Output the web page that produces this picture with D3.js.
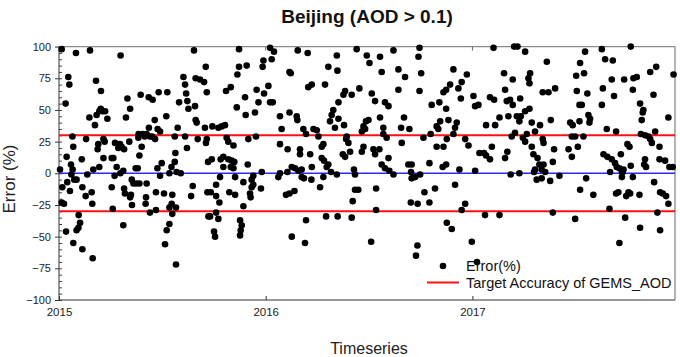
<!DOCTYPE html>
<html><head><meta charset="utf-8">
<script src="https://cdn.jsdelivr.net/npm/d3@7/dist/d3.min.js"></script>
<style>
html,body{margin:0;padding:0;background:#fff;}
svg{display:block;font-family:"Liberation Sans",Arial,sans-serif;}
</style></head>
<body>
<svg id="chart" width="680" height="357"></svg>
<script>
// ---- data ----
const titleText = "Beijing (AOD > 0.1)";
const xLabel = "Timeseries";
const yLabel = "Error (%)";
const startYear = 2015;
const xTickYears = [2015, 2016, 2017];
const yTicks = [-100, -75, -50, -25, 0, 25, 50, 75, 100];
const targetAccuracy = [30, -30];
const zeroLine = 0;
const legendLabels = ["Error(%)", "Target Accuracy of GEMS_AOD"];
// each observation: [years elapsed since startYear, error (%)]
const observations = [
[0.013,98],[0.082,95],[0.150,97],[0.298,93],[0.653,97],[0.710,84],[0.045,76],[0.050,70],[0.179,73],[0.203,65],[0.032,55],[0.602,76],[0.610,70],[0.661,75],[0.682,74],[0.702,72],[0.715,64],[0.395,62],[0.434,60],[0.453,58],[0.482,64],[0.524,64],[0.331,59],[0.344,51],[0.581,56],[0.615,63],[0.621,57],[0.626,51],[0.658,53],[0.202,51],[0.195,49],[0.210,49],[0.223,49],[0.182,46],[0.234,43],[0.147,44],[0.174,38],[0.324,44],[0.463,42],[0.519,45],[0.661,42],[0.666,40],[0.706,36],[0.435,36],[0.477,35],[0.489,33],[0.385,31],[0.405,31],[0.415,29],[0.424,31],[0.440,29],[0.450,29],[0.465,27],[0.574,36],[0.065,29],[0.131,27],[0.215,27],[0.221,25],[0.190,23],[0.187,19],[0.271,24],[0.295,23],[0.303,21],[0.287,20],[0.315,19],[0.340,25],[0.384,28],[0.400,21],[0.560,29],[0.610,29],[0.671,27],[0.715,27],[0.711,24],[0.069,21],[0.619,20],[0.563,16],[0.389,14],[0.037,13],[0.110,11],[0.263,12],[0.255,12],[0.215,12],[0.058,7],[0.560,9],[0.497,8],[0.005,3],[0.066,3],[0.137,-1],[0.195,5],[0.279,5],[0.166,3],[0.269,-2],[0.297,0],[0.311,2],[0.371,4],[0.381,4],[0.476,4],[0.534,0],[0.544,5],[0.569,1],[0.589,0],[0.489,-2],[0.721,9],[0.060,-1],[0.085,-5],[0.074,-5],[0.040,-7],[0.016,-11],[0.053,-14],[0.113,-11],[0.129,-18],[0.158,-15],[0.255,-11],[0.315,-12],[0.319,-16],[0.352,-5],[0.360,-8],[0.373,-8],[0.389,-8],[0.424,-8],[0.348,-17],[0.344,-19],[0.421,-19],[0.469,-15],[0.508,-16],[0.548,-17],[0.639,-18],[0.647,-10],[0.718,-15],[0.013,-23],[0.024,-24],[0.161,-24],[0.260,-28],[0.353,-25],[0.419,-24],[0.545,-24],[0.534,-27],[0.566,-27],[0.440,-31],[0.469,-29],[0.548,-32],[0.723,-34],[0.095,-33],[0.102,-39],[0.094,-43],[0.085,-45],[0.034,-46],[0.069,-55],[0.113,-60],[0.163,-67],[0.311,-41],[0.534,-40],[0.521,-45],[0.513,-56],[0.566,-72],
[0.871,98],[1.021,99],[1.040,96],[1.155,97],[1.203,95],[1.344,93],[0.989,89],[1.029,90],[0.985,84],[0.908,85],[0.871,84],[0.863,78],[1.303,84],[1.347,81],[1.115,80],[1.121,79],[1.013,69],[0.992,63],[0.956,66],[0.965,56],[1.021,56],[1.034,56],[0.900,60],[0.860,52],[0.948,48],[0.903,46],[0.808,65],[0.831,68],[1.206,68],[1.223,70],[1.287,70],[1.352,56],[1.115,48],[1.150,45],[1.153,42],[1.069,45],[1.077,35],[1.327,50],[1.319,46],[1.311,41],[1.335,36],[1.352,43],[0.742,37],[0.771,36],[0.787,37],[0.803,38],[0.811,28],[0.819,25],[0.916,27],[0.953,29],[0.844,22],[1.069,23],[1.106,19],[1.182,35],[1.195,31],[1.231,35],[1.247,34],[1.255,29],[1.279,23],[1.271,21],[1.166,19],[1.166,15],[1.215,15],[1.271,12],[1.282,10],[1.303,7],[0.739,11],[0.782,11],[0.795,13],[0.819,11],[0.835,10],[0.848,9],[0.795,5],[0.831,5],[0.844,4],[0.913,7],[1.126,5],[1.142,4],[1.158,2],[1.174,3],[1.223,5],[1.295,5],[1.316,1],[0.981,1],[1.069,0],[1.105,1],[1.061,-3],[1.174,-3],[1.185,-4],[1.221,-5],[1.279,-3],[1.344,-1],[0.779,-3],[0.852,-3],[0.940,-2],[0.932,-5],[0.892,-7],[0.760,-9],[0.940,-9],[0.932,-11],[0.977,-12],[0.734,-15],[0.760,-18],[0.776,-23],[0.824,-15],[0.852,-17],[0.924,-16],[0.927,-19],[1.263,-11],[1.098,-17],[1.115,-16],[1.139,-14],[0.892,-26],[0.731,-34],[0.760,-31],[0.771,-36],[0.876,-37],[0.884,-41],[0.879,-45],[0.876,-49],[0.750,-46],[0.755,-50],[1.195,-37],[1.292,-34],[1.348,-34],[1.126,-50],[1.190,-55],
[1.440,98],[1.618,97],[1.744,99],[1.489,93],[1.553,92],[1.739,92],[1.502,87],[1.561,80],[1.642,82],[1.674,76],[1.752,79],[1.908,82],[1.973,78],[1.948,72],[1.892,70],[1.932,67],[1.873,66],[1.860,64],[1.642,66],[1.744,65],[1.453,67],[1.384,65],[1.376,62],[1.416,62],[1.513,63],[1.529,57],[1.577,56],[1.594,53],[1.803,54],[1.840,56],[1.873,51],[2.005,61],[2.013,53],[2.029,54],[1.944,59],[1.553,44],[1.669,44],[1.655,36],[1.695,35],[1.379,38],[1.485,41],[1.497,42],[1.473,37],[1.481,35],[1.465,33],[1.569,36],[1.569,31],[1.585,28],[1.844,41],[1.827,37],[1.835,35],[1.884,42],[1.924,40],[1.916,36],[1.908,31],[1.876,27],[1.763,28],[1.798,31],[1.965,27],[1.981,22],[1.392,29],[1.389,27],[1.400,24],[1.658,24],[1.827,21],[1.860,21],[1.473,21],[1.465,17],[1.521,19],[1.529,15],[1.550,19],[1.408,17],[1.373,15],[1.384,13],[1.594,12],[1.561,7],[1.577,4],[1.598,2],[1.618,-1],[1.690,7],[1.706,7],[1.703,1],[1.706,-4],[1.723,-3],[1.747,-1],[1.792,8],[1.856,5],[1.873,7],[1.937,3],[2.013,2],[2.034,16],[1.427,3],[1.432,-1],[1.432,-13],[1.448,-13],[1.421,-22],[1.534,-12],[1.768,-15],[1.819,-12],[1.916,-9],[1.702,-23],[1.735,-24],[1.792,-23],[1.965,-24],[1.948,-29],[1.534,-29],[1.416,-35],[1.876,-39],[1.900,-44],[1.510,-54],[1.734,-57],[1.727,-65],[1.997,-54],[2.022,-70],
[2.102,99],[2.202,100],[2.218,100],[2.255,96],[2.360,88],[2.545,96],[2.521,87],[2.540,79],[2.502,77],[2.153,79],[2.195,74],[2.279,79],[2.271,75],[2.276,71],[2.158,66],[2.340,64],[2.368,64],[2.400,67],[2.505,65],[2.556,63],[2.085,60],[2.105,58],[2.166,57],[2.182,58],[2.195,54],[2.231,59],[2.255,49],[2.276,51],[2.234,45],[2.518,54],[2.529,54],[2.131,44],[2.174,45],[2.215,45],[2.227,41],[2.287,40],[2.327,38],[2.379,42],[2.473,40],[2.485,38],[2.518,41],[2.569,43],[2.566,40],[2.561,46],[2.066,38],[2.110,38],[2.206,32],[2.190,29],[2.303,33],[2.244,28],[2.263,31],[2.255,25],[2.340,27],[2.344,24],[2.481,29],[2.497,29],[2.537,29],[2.094,21],[2.056,16],[2.066,14],[2.085,11],[2.158,12],[2.169,17],[2.287,21],[2.295,15],[2.315,12],[2.324,7],[2.344,7],[2.303,3],[2.335,3],[2.352,1],[2.389,9],[2.395,19],[2.465,19],[2.481,13],[2.510,21],[2.185,-1],[2.227,0],[2.298,1],[2.311,-5],[2.335,-4],[2.376,-6],[2.421,-2],[2.550,-4],[2.521,-13],[2.585,-17],[2.061,-33],[2.131,-33],[2.389,-31],[2.497,-36],
[2.626,98],[2.766,100],[2.642,90],[2.679,89],[2.631,67],[2.674,74],[2.685,61],[2.626,54],[2.734,74],[2.779,75],[2.795,76],[2.776,66],[2.860,80],[2.889,84],[2.973,78],[2.876,62],[2.811,55],[2.827,50],[2.824,48],[2.819,42],[2.948,44],[2.650,35],[2.695,33],[2.815,31],[2.835,30],[2.852,29],[2.860,27],[2.868,24],[2.884,33],[2.905,21],[2.750,23],[2.760,21],[2.634,15],[2.653,13],[2.674,11],[2.690,8],[2.698,5],[2.718,15],[2.711,4],[2.723,1],[2.731,3],[2.766,6],[2.835,11],[2.831,7],[2.840,5],[2.905,11],[2.932,10],[2.953,5],[2.969,5],[2.666,1],[2.727,1],[2.723,-3],[2.776,-3],[2.879,-7],[2.695,-16],[2.706,-15],[2.744,-18],[2.755,-15],[2.763,-16],[2.808,-17],[2.908,-15],[2.921,-16],[2.937,-18],[2.948,-24],[2.663,-28],[2.739,-35],[2.895,-31],[2.811,-43],[2.908,-45],[2.711,-55]
];

// ---- layout ----
const svg = d3.select("#chart");
const W = 680, H = 357;
const L = 59, R = 675, T = 46.6, B = 300;

const x = d3.scaleLinear().domain([2015, 2017.98]).range([L, R]);
const y = d3.scaleLinear().domain([-100, 100]).range([B, T]);

svg.append("rect").attr("width", W).attr("height", H).attr("fill", "#fff");

// title
svg.append("text").attr("x", 367).attr("y", 23).attr("text-anchor", "middle")
  .attr("font-size", 19).attr("font-weight", "bold").attr("fill", "#111").text(titleText);

// axis labels
svg.append("text").attr("x", 369).attr("y", 354).attr("text-anchor", "middle")
  .attr("font-size", 16).attr("fill", "#222").text(xLabel);
svg.append("text").attr("transform", "translate(15,179) rotate(-90)").attr("text-anchor", "middle")
  .attr("font-size", 17).attr("fill", "#222").text(yLabel);

// frame: top & right light
svg.append("line").attr("x1", L).attr("x2", R).attr("y1", T).attr("y2", T).attr("stroke", "#8a8a8a").attr("stroke-width", 1.3);
svg.append("line").attr("x1", R).attr("x2", R).attr("y1", T).attr("y2", B).attr("stroke", "#8a8a8a").attr("stroke-width", 1.3);

// top inward ticks
svg.append("g").selectAll("line").data(xTickYears.slice(1)).join("line")
  .attr("x1", d => x(d)).attr("x2", d => x(d)).attr("y1", T).attr("y2", T + 4)
  .attr("stroke", "#666");

// y minor ticks (inside)
const yMinor = d3.axisRight(y).tickValues(d3.range(-100, 101, 5)).tickSize(3).tickFormat("");
svg.append("g").attr("transform", `translate(${L},0)`).call(yMinor)
  .call(g => g.select(".domain").remove())
  .call(g => g.selectAll("line").attr("stroke", "#444"));

// y axis
const yAxis = d3.axisLeft(y).tickValues(yTicks).tickSize(4).tickPadding(4).tickFormat(d3.format("d"));
svg.append("g").attr("transform", `translate(${L},0)`).call(yAxis)
  .call(g => g.select(".domain").attr("stroke", "#333").attr("d", `M0,${T}V${B}`))
  .call(g => g.selectAll("line").attr("stroke", "#333"))
  .call(g => g.selectAll("text").attr("font-size", 11).attr("fill", "#222")
     .attr("font-family", "Liberation Sans, Arial, sans-serif"));

// x axis
const xAxis = d3.axisBottom(x).tickValues(xTickYears).tickSizeInner(-4).tickSizeOuter(0).tickPadding(8).tickFormat(d3.format("d"));
svg.append("g").attr("transform", `translate(0,${B})`).call(xAxis)
  .call(g => g.select(".domain").attr("stroke", "#333").attr("d", `M${L},0H${R}`))
  .call(g => g.selectAll("line").attr("stroke", "#333"))
  .call(g => g.selectAll("text").attr("font-size", 11.5).attr("fill", "#222")
     .attr("font-family", "Liberation Sans, Arial, sans-serif"));

// reference lines
svg.append("line").attr("x1", L).attr("x2", R).attr("y1", y(zeroLine)).attr("y2", y(zeroLine))
  .attr("stroke", "#2a2aff").attr("stroke-width", 1.5);
svg.append("g").selectAll("line").data(targetAccuracy).join("line")
  .attr("x1", L).attr("x2", R).attr("y1", d => y(d)).attr("y2", d => y(d))
  .attr("stroke", "#ff1010").attr("stroke-width", 2);

// points
svg.append("g").selectAll("circle").data(observations).join("circle")
  .attr("cx", d => x(startYear + d[0])).attr("cy", d => y(d[1]))
  .attr("r", 3.3).attr("fill", "#000");

// legend
const lg = svg.append("g");
lg.append("circle").attr("cx", 443).attr("cy", 266).attr("r", 3.3).attr("fill", "#000");
lg.append("text").attr("x", 466).attr("y", 271).attr("font-size", 14.5).attr("fill", "#111").text(legendLabels[0]);
lg.append("line").attr("x1", 427).attr("x2", 459).attr("y1", 282.5).attr("y2", 282.5)
  .attr("stroke", "#ff1010").attr("stroke-width", 2);
lg.append("text").attr("x", 466).attr("y", 287.5).attr("font-size", 14.5).attr("fill", "#111").text(legendLabels[1]);
</script>
</body></html>
